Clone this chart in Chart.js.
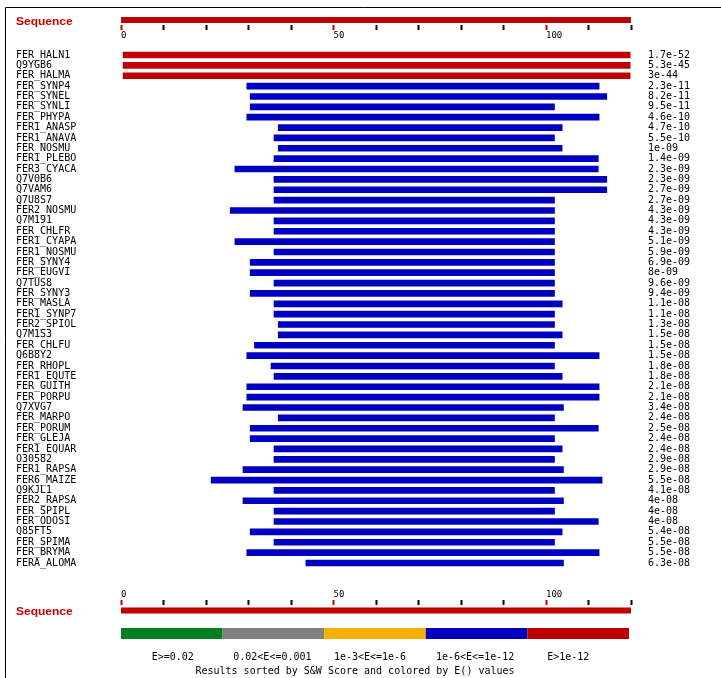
<!DOCTYPE html>
<html>
<head>
<meta charset="utf-8">
<script src="https://cdn.jsdelivr.net/npm/chart.js@4/dist/chart.umd.min.js"></script>
<style>
  html, body { margin: 0; padding: 0; background: #fff; }
  canvas { display: block; }
</style>
</head>
<body>
<canvas id="hits" width="721" height="678"></canvas>
<script>
// Hit names, in S&W score order
const sequences = [
  'FER_HALN1', 'Q9YGB6', 'FER_HALMA', 'FER_SYNP4', 'FER_SYNEL', 'FER_SYNLI', 'FER_PHYPA',
  'FER1_ANASP', 'FER1_ANAVA', 'FER_NOSMU', 'FER1_PLEBO', 'FER3_CYACA', 'Q7V0B6', 'Q7VAM6',
  'Q7U8S7', 'FER2_NOSMU', 'Q7M191', 'FER_CHLFR', 'FER1_CYAPA', 'FER1_NOSMU', 'FER_SYNY4',
  'FER_EUGVI', 'Q7TUS8', 'FER_SYNY3', 'FER_MASLA', 'FER1_SYNP7', 'FER2_SPIOL', 'Q7M1S3',
  'FER_CHLFU', 'Q6B8Y2', 'FER_RHOPL', 'FER1_EQUTE', 'FER_GUITH', 'FER_PORPU', 'Q7XVG7',
  'FER_MARPO', 'FER_PORUM', 'FER_GLEJA', 'FER1_EQUAR', 'O30582', 'FER1_RAPSA', 'FER6_MAIZE',
  'Q9KJL1', 'FER2_RAPSA', 'FER_SPIPL', 'FER_ODOSI', 'Q85FT5', 'FER_SPIMA', 'FER_BRYMA',
  'FERA_ALOMA'
];

// E() value of each hit
const eValues = [
  '1.7e-52', '5.3e-45', '3e-44', '2.3e-11', '8.2e-11', '9.5e-11', '4.6e-10',
  '4.7e-10', '5.5e-10', '1e-09', '1.4e-09', '2.3e-09', '2.3e-09', '2.7e-09',
  '2.7e-09', '4.3e-09', '4.3e-09', '4.3e-09', '5.1e-09', '5.9e-09', '6.9e-09',
  '8e-09', '9.6e-09', '9.4e-09', '1.1e-08', '1.1e-08', '1.3e-08', '1.5e-08',
  '1.5e-08', '1.5e-08', '1.8e-08', '1.8e-08', '2.1e-08', '2.1e-08', '3.4e-08',
  '2.4e-08', '2.5e-08', '2.4e-08', '2.4e-08', '2.9e-08', '2.9e-08', '5.5e-08',
  '4.1e-08', '4e-08', '4e-08', '4e-08', '5.4e-08', '5.5e-08', '5.5e-08',
  '6.3e-08'
];

// Aligned region on the query sequence (start, end)
const alignStart = [
  0.5, 0.5, 0.5, 29.6, 30.4, 30.4, 29.6,
  37, 36, 37, 36, 26.8, 36, 36,
  36, 25.7, 36, 36, 26.8, 36, 30.4,
  30.4, 36, 30.4, 36, 36, 37, 37,
  31.4, 29.6, 35.3, 36, 29.6, 29.6, 28.7,
  37, 30.4, 30.4, 36, 36, 28.7, 21.2,
  36, 28.7, 36, 36, 30.4, 36, 29.6,
  43.5
];
const alignEnd = [
  119.8, 119.8, 119.8, 112.5, 114.3, 102, 112.5,
  103.8, 102, 103.8, 112.3, 112.3, 114.3, 114.3,
  102, 102, 102, 102, 102, 102, 102,
  102, 102, 102, 103.8, 102, 102, 103.8,
  102, 112.5, 102, 103.8, 112.5, 112.5, 104.1,
  102, 112.3, 102, 103.8, 102, 104.1, 113.2,
  102, 104.1, 102, 112.3, 103.8, 102, 112.5,
  104.1
];

const queryLength = 120;
const labelledTicks = [0, 50, 100];

// E() classes shown under the plot
const legendLabels = ['E>=0.02', '0.02<E<=0.001', '1e-3<E<=1e-6', '1e-6<E<=1e-12', 'E>1e-12'];
const legendColors = ['#008020', '#808080', '#f8b000', '#0000c0', '#c00000'];

function colorForE(e) {
  if (e <= 1e-12) return legendColors[4];
  if (e <= 1e-6) return legendColors[3];
  if (e <= 1e-3) return legendColors[2];
  if (e < 0.02) return legendColors[1];
  return legendColors[0];
}

const RED = '#c00000';
const MONO = '"DejaVu Sans Mono", "Liberation Mono", monospace';

const barData = sequences.map((name, i) => ({ x: [alignStart[i], alignEnd[i]], y: i }));
const barColors = eValues.map(v => colorForE(parseFloat(v)));

const decorations = {
  id: 'decorations',
  beforeDraw(chart) {
    const ctx = chart.ctx;
    ctx.save();
    ctx.fillStyle = '#fff';
    ctx.fillRect(0, 0, chart.width, chart.height);
    ctx.strokeStyle = '#000';
    ctx.lineWidth = 1;
    ctx.beginPath();
    ctx.moveTo(5.5, chart.height);
    ctx.lineTo(5.5, 7.5);
    ctx.lineTo(chart.width, 7.5);
    ctx.stroke();
    ctx.restore();
  },
  afterDraw(chart) {
    const ctx = chart.ctx;
    const xs = chart.scales.x;
    const x0 = xs.getPixelForValue(0);
    const x1 = xs.getPixelForValue(queryLength);

    ctx.save();
    // query sequence bars above and below the hits
    ctx.fillStyle = RED;
    ctx.fillRect(x0, 17, x1 - x0, 6);
    ctx.fillRect(x0, 607.5, x1 - x0, 6);

    // "Sequence" captions
    ctx.fillStyle = '#cc0000';
    ctx.font = 'bold 10px "Liberation Sans", Arial, sans-serif';
    ctx.textAlign = 'left';
    ctx.textBaseline = 'alphabetic';
    [24.5, 614.5].forEach(y => {
      ctx.save();
      ctx.translate(16, y);
      ctx.scale(1.2, 1);
      ctx.fillText('Sequence', 0, 0);
      ctx.restore();
    });

    // colour key
    const w = (x1 - x0 - 2) / legendColors.length;
    const shift = [1, -1, -5, -1.5, -10];
    legendColors.forEach((c, k) => {
      ctx.fillStyle = c;
      ctx.fillRect(x0 + k * w, 628, w, 11);
    });
    ctx.fillStyle = '#000';
    ctx.font = '10px ' + MONO;
    ctx.textAlign = 'center';
    ctx.textBaseline = 'middle';
    legendLabels.forEach((t, k) => {
      ctx.fillText(t, x0 + k * w + w / 2 + shift[k], 657);
    });
    ctx.fillText('Results sorted by S&W Score and colored by E() values', 355, 671);
    ctx.restore();
  }
};

function positionAxis(position) {
  return {
    type: 'linear',
    position: position,
    offset: false,
    min: 0,
    max: queryLength,
    afterFit: s => {
      s.height = position === 'top' ? 30 : 78;
      s.paddingLeft = 0;
      s.paddingRight = 0;
    },
    border: { display: false },
    grid: {
      drawOnChartArea: false,
      drawTicks: true,
      tickLength: 5,
      tickWidth: 2,
      tickColor: ctx => (ctx.tick && labelledTicks.includes(ctx.tick.value)) ? RED : '#000'
    },
    ticks: {
      stepSize: 10,
      autoSkip: false,
      maxRotation: 0,
      minRotation: 0,
      mirror: true,
      align: 'start',
      padding: 0,
      color: '#000',
      font: { family: MONO, size: 9 },
      callback: v => labelledTicks.includes(v) ? String(v) : ''
    }
  };
}

function rowAxis(position, texts, width, padding) {
  return {
    type: 'linear',
    position: position,
    reverse: true,
    offset: false,
    min: -2.41,
    max: 52.57,
    afterFit: s => {
      s.width = width;
      s.paddingTop = 0;
      s.paddingBottom = 0;
    },
    border: { display: false },
    grid: { display: false, drawTicks: false },
    ticks: {
      stepSize: 1,
      autoSkip: false,
      crossAlign: position === 'left' ? 'far' : 'near',
      padding: padding,
      color: '#000',
      font: { family: MONO, size: 10 },
      callback: v => (Number.isInteger(v) && texts[v] !== undefined) ? texts[v] : ''
    }
  };
}

new Chart(document.getElementById('hits'), {
  type: 'bar',
  data: {
    datasets: [{
      data: barData,
      backgroundColor: barColors,
      borderWidth: 0,
      barThickness: 6,
      xAxisID: 'x',
      yAxisID: 'y'
    }]
  },
  options: {
    indexAxis: 'y',
    responsive: false,
    animation: false,
    devicePixelRatio: 1,
    layout: { padding: { left: 16, right: 0, top: 0, bottom: 0 } },
    plugins: {
      legend: { display: false },
      tooltip: { enabled: false }
    },
    scales: {
      x: positionAxis('top'),
      x2: positionAxis('bottom'),
      y: rowAxis('left', sequences, 105, 0),
      y2: rowAxis('right', eValues, 90, 17)
    }
  },
  plugins: [decorations]
});
</script>
</body>
</html>
